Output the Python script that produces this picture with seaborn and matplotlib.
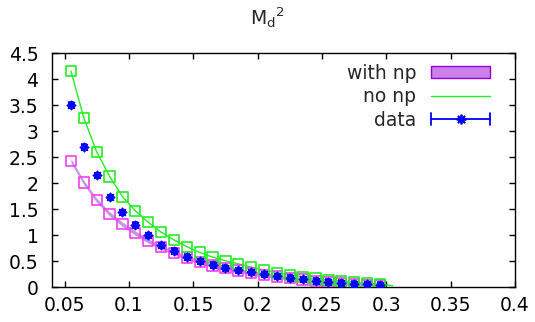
import numpy as np
import pandas as pd
import matplotlib
matplotlib.use('Agg')
import matplotlib.pyplot as plt
import seaborn as sns
from matplotlib.lines import Line2D
from matplotlib.patches import Patch
from matplotlib.legend_handler import HandlerBase
from matplotlib.ticker import FormatStrFormatter

# values
x_vals = [0.055, 0.065, 0.075, 0.085, 0.095, 0.105, 0.115, 0.125, 0.135, 0.145,
          0.155, 0.165, 0.175, 0.185, 0.195, 0.205, 0.215, 0.225, 0.235, 0.245,
          0.255, 0.265, 0.275, 0.285, 0.295]
no_np = [4.15, 3.25, 2.60, 2.13, 1.74, 1.47, 1.25, 1.06, 0.91, 0.78,
         0.67, 0.58, 0.51, 0.45, 0.39, 0.33, 0.28, 0.24, 0.20, 0.17,
         0.14, 0.12, 0.10, 0.08, 0.06]
with_np = [2.43, 2.01, 1.67, 1.41, 1.21, 1.04, 0.89, 0.77, 0.66, 0.57,
           0.49, 0.42, 0.37, 0.32, 0.28, 0.24, 0.21, 0.18, 0.15, 0.12,
           0.10, 0.08, 0.06, 0.05, 0.035]
data_y = [3.51, 2.70, 2.15, 1.73, 1.44, 1.20, 1.00, 0.81, 0.70, 0.58,
          0.50, 0.43, 0.38, 0.33, 0.29, 0.25, 0.21, 0.18, 0.155, 0.13,
          0.11, 0.09, 0.07, 0.06, 0.045]
data_err = [0.05] * len(x_vals)
band_half = 0.04

# model curve continues a bit past the last point
line_x = x_vals + [0.305]
line_no_np = no_np + [0.03]

x_ticks = [0.05, 0.1, 0.15, 0.2, 0.25, 0.3, 0.35, 0.4]
y_ticks = [0, 0.5, 1, 1.5, 2, 2.5, 3, 3.5, 4, 4.5]

GREEN = '#22ee22'
MAGENTA = '#f040f0'
BLUE = '#0000ff'
BAND = '#c792e6'
FS = 13.5

df = pd.DataFrame({'x': x_vals, 'no_np': no_np, 'with_np': with_np,
                   'data': data_y, 'err': data_err})
line_df = pd.DataFrame({'x': line_x, 'y': line_no_np})


class ErrHandler(HandlerBase):
    """legend sample like gnuplot's errorbar key: bar with caps + star"""
    def create_artists(self, legend, orig, xdescent, ydescent, width, height,
                       fontsize, trans):
        y = height / 2 - ydescent
        x0, x1 = -xdescent, width - xdescent
        h = 4.5
        arts = [Line2D([x0, x1], [y, y], color=BLUE, lw=1.3),
                Line2D([x0, x0], [y - h, y + h], color=BLUE, lw=1.3),
                Line2D([x1, x1], [y - h, y + h], color=BLUE, lw=1.3),
                Line2D([(x0 + x1) / 2], [y], color=BLUE, marker=(8, 2, 0),
                       ms=7, mew=1.3, ls='none')]
        for a in arts:
            a.set_transform(trans)
        return arts


sns.set_theme(style='ticks', rc={
    'xtick.direction': 'in', 'ytick.direction': 'in',
    'xtick.top': True, 'ytick.right': True,
    'xtick.major.size': 4.5, 'ytick.major.size': 4.5,
    'axes.linewidth': 1.0, 'axes.edgecolor': 'black',
})
plt.rcParams['font.family'] = ['DejaVu Sans']

fig = plt.figure(figsize=(5.35, 3.22), dpi=100)
ax = fig.add_axes([0.0966, 0.1078, 0.8660, 0.7276])

ax.fill_between(df['x'], df['with_np'] - band_half, df['with_np'] + band_half,
                color=BAND, lw=0, zorder=1)
sns.lineplot(data=line_df, x='x', y='y', ax=ax, color=GREEN, lw=1.0,
             estimator=None, sort=False, zorder=2)
sns.scatterplot(data=df, x='x', y='with_np', ax=ax, marker='s', s=55,
                facecolor='none', edgecolor=MAGENTA, linewidth=1.2, zorder=3)
sns.scatterplot(data=df, x='x', y='no_np', ax=ax, marker='s', s=55,
                facecolor='none', edgecolor=GREEN, linewidth=1.2, zorder=3)
ax.errorbar(df['x'], df['data'], yerr=df['err'], fmt='none', ecolor=BLUE,
            elinewidth=1.1, capsize=2.5, capthick=1.1, zorder=4)
sns.scatterplot(data=df, x='x', y='data', ax=ax, marker=(8, 2, 0), s=32,
                color=BLUE, edgecolor=BLUE, linewidth=1.3, zorder=5)

ax.set_xlim(0.04, 0.4)
ax.set_ylim(0, 4.5)
ax.set_xticks(x_ticks)
ax.set_yticks(y_ticks)
ax.xaxis.set_major_formatter(FormatStrFormatter('%g'))
ax.yaxis.set_major_formatter(FormatStrFormatter('%g'))
ax.tick_params(axis='both', labelsize=FS, colors='black', width=1.0)
ax.tick_params(axis='x', pad=6)
ax.tick_params(axis='y', pad=9.5)
ax.set_xlabel('')
ax.set_ylabel('')

fig.text(0.5, 1 - 18 / 322, r'$\mathregular{M_d{}^2}$', ha='center',
         va='center', fontsize=FS)

err_key = Line2D([], [], color=BLUE)
handles = [Patch(facecolor='#cb80e8', edgecolor='#9400d3', lw=1.0),
           Line2D([], [], color=GREEN, lw=1.0),
           err_key]
labels = ['with np', 'no np', 'data']
ax.legend(handles, labels, loc='upper right', bbox_to_anchor=(0.963, 0.985),
          frameon=False, markerfirst=False, fontsize=FS, handlelength=3.15,
          handleheight=0.6, handletextpad=0.8, labelspacing=0.23,
          borderaxespad=0, handler_map={err_key: ErrHandler()})

fig.savefig('out.png', dpi=100)
